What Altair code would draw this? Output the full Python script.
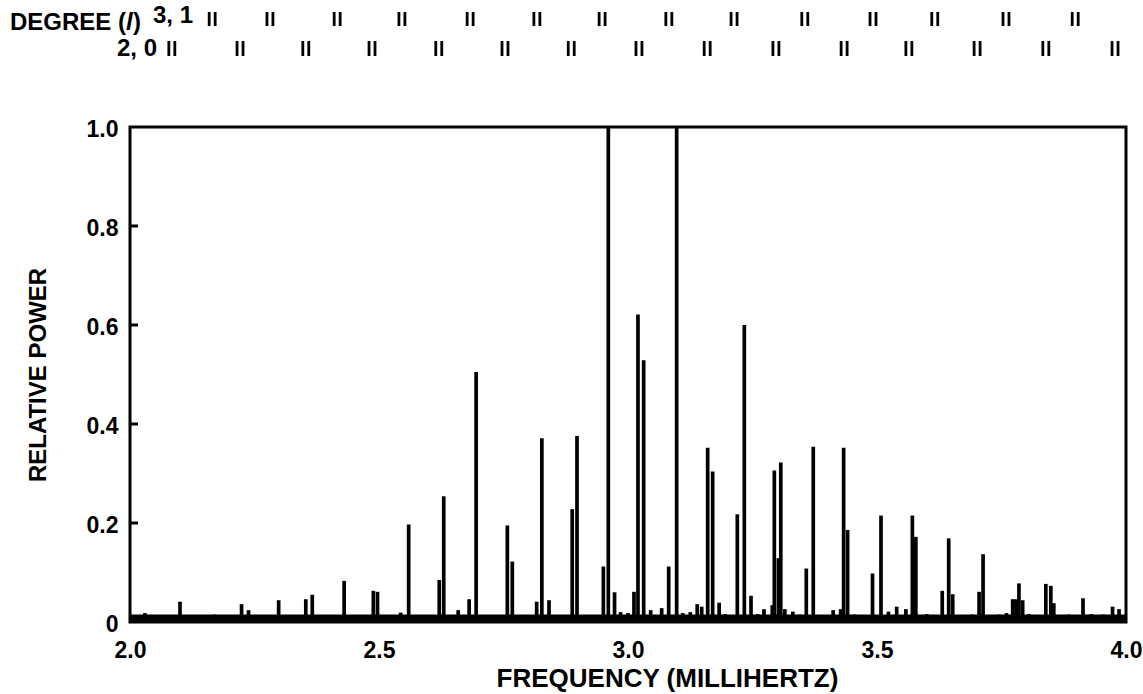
import altair as alt
import pandas as pd

# ---------------- data ----------------
peak_freq = [2.1004, 2.224, 2.238, 2.2985, 2.353, 2.366, 2.430, 2.4886, 2.497, 2.5596,
             2.621, 2.630, 2.681, 2.695, 2.7577, 2.7677, 2.8166, 2.827, 2.8414, 2.888,
             2.8976, 2.9505, 2.9605, 2.973, 3.012, 3.020, 3.0315, 3.0455, 3.0676, 3.0817,
             3.0977, 3.139, 3.148, 3.160, 3.170, 3.183, 3.2195, 3.2336, 3.247, 3.273,
             3.2897, 3.2938, 3.302, 3.3068, 3.315, 3.331, 3.358, 3.372, 3.412, 3.427,
             3.433, 3.441, 3.491, 3.508, 3.523, 3.5395, 3.558, 3.571, 3.578, 3.631,
             3.644, 3.652, 3.705, 3.713, 3.7725, 3.779, 3.785, 3.7925, 3.839, 3.849,
             3.855, 3.9137, 3.973, 3.986]
peak_power = [0.041, 0.036, 0.024, 0.044, 0.046, 0.055, 0.083, 0.063, 0.061, 0.197,
              0.085, 0.254, 0.046, 0.505, 0.195, 0.122, 0.041, 0.371, 0.044, 0.228,
              0.376, 0.112, 1.0, 0.060, 0.061, 0.621, 0.529, 0.024, 0.028, 0.112,
              1.0, 0.036, 0.031, 0.352, 0.304, 0.039, 0.2175, 0.600, 0.053, 0.026,
              0.034, 0.306, 0.129, 0.322, 0.026, 0.021, 0.108, 0.354, 0.024, 0.026,
              0.352, 0.186, 0.098, 0.215, 0.021, 0.031, 0.026, 0.215, 0.172, 0.063,
              0.169, 0.056, 0.061, 0.137, 0.046, 0.046, 0.078, 0.044, 0.077, 0.073,
              0.038, 0.048, 0.031, 0.026]

# small bumps of the noise floor
bump_freq = [2.030, 2.060, 2.090, 2.120, 2.150, 2.170, 2.190, 2.260, 2.280, 2.330,
             2.400, 2.415, 2.462, 2.515, 2.5435, 2.575, 2.590, 2.659, 2.700, 2.729,
             2.745, 2.790, 2.860, 2.875, 2.920, 2.985, 3.000, 3.110, 3.125, 3.195,
             3.260, 3.345, 3.390, 3.455, 3.470, 3.590, 3.600, 3.615, 3.670, 3.690,
             3.730, 3.745, 3.760, 3.805, 3.820, 3.870, 3.885, 3.930, 3.945, 3.955]
bump_power = [0.018, 0.010, 0.014, 0.012, 0.012, 0.015, 0.014, 0.012, 0.012, 0.014,
              0.012, 0.014, 0.012, 0.012, 0.019, 0.014, 0.012, 0.024, 0.014, 0.014,
              0.012, 0.014, 0.012, 0.014, 0.012, 0.020, 0.018, 0.018, 0.020, 0.016,
              0.016, 0.015, 0.014, 0.015, 0.014, 0.014, 0.016, 0.014, 0.014, 0.015,
              0.014, 0.015, 0.018, 0.016, 0.014, 0.014, 0.015, 0.016, 0.014, 0.015]
floor_level = [0.008]
freq_range = [2.0, 4.0]

# mode identification ticks (degree l)
deg3_freq = [2.159, 2.275, 2.410, 2.540, 2.677, 2.811, 2.942, 3.076, 3.207, 3.349,
             3.486, 3.610, 3.753, 3.892]
deg1_freq = [2.171, 2.287, 2.422, 2.552, 2.689, 2.823, 2.954, 3.088, 3.219, 3.361,
             3.498, 3.622, 3.765, 3.904]
deg2_freq = [2.078, 2.215, 2.347, 2.480, 2.614, 2.747, 2.880, 3.016, 3.153, 3.291,
             3.428, 3.558, 3.695, 3.833, 3.972]
deg0_freq = [2.090, 2.227, 2.359, 2.492, 2.626, 2.759, 2.892, 3.028, 3.165, 3.303,
             3.440, 3.570, 3.707, 3.845, 3.984]

x_ticks = [2.0, 2.5, 3.0, 3.5, 4.0]
y_ticks = [0, 0.2, 0.4, 0.6, 0.8, 1.0]
y_inner_ticks = [0.2, 0.4, 0.6, 0.8]

x_title = "FREQUENCY (MILLIHERTZ)"
y_title = "RELATIVE POWER"
degree_parts = ["DEGREE (", "l", ")"]
row_labels = ["3, 1", "2, 0"]

# ---------------- chart ----------------
FONT = "Liberation Sans"
W, H = 996, 495

xs = alt.Scale(domain=freq_range, nice=False, zero=False)
ys = alt.Scale(domain=[0, 1.0], nice=False)

spec_df = pd.DataFrame({"f": peak_freq + bump_freq,
                        "p": peak_power + bump_power})
spec_df["b"] = 0.0

x_axis = alt.Axis(values=x_ticks, format=".1f", labelFont=FONT, labelFontSize=23,
                  labelFontWeight="bold", labelColor="black", ticks=False, tickSize=0,
                  domain=False, grid=False, labelPadding=17, labelFlush=False,
                  title=x_title, titleFont=FONT, titleFontSize=26, titleFontWeight="bold",
                  titleColor="black", titleX=537, titleY=43, titleAlign="center",
                  titleBaseline="top")
y_axis = alt.Axis(values=y_ticks,
                  labelExpr="datum.value == 0 ? '0' : format(datum.value, '.1f')",
                  labelFont=FONT, labelFontSize=23, labelFontWeight="bold",
                  labelColor="black", ticks=False, tickSize=0, domain=False, grid=False,
                  labelPadding=12, labelOffset=2,
                  title=y_title, titleFont=FONT, titleFontSize=24, titleFontWeight="bold",
                  titleColor="black", titleX=-92, titleY=H / 2, titleAngle=270,
                  titleAlign="center", titleBaseline="middle")

peaks = alt.Chart(spec_df).mark_rule(color="black", strokeWidth=3.7).encode(
    x=alt.X("f:Q", scale=xs, axis=x_axis),
    y=alt.Y("p:Q", scale=ys, axis=y_axis),
    y2="b:Q",
)

floor_df = pd.DataFrame({"f": [freq_range[0]], "x1": [freq_range[1]], "p": floor_level})
floor = alt.Chart(floor_df).mark_rule(color="black", strokeWidth=7).encode(
    x=alt.X("f:Q", scale=xs, axis=x_axis), x2="x1:Q",
    y=alt.Y("p:Q", scale=ys, axis=y_axis),
)

ytick_df = pd.DataFrame({"p": y_inner_ticks})
yticks = alt.Chart(ytick_df).mark_rule(color="black", strokeWidth=3).encode(
    y=alt.Y("p:Q", scale=ys, axis=y_axis), x=alt.value(0), x2=alt.value(8),
)


def tick_row(freqs, y0, y1):
    df = pd.DataFrame({"f": freqs})
    return alt.Chart(df).mark_rule(color="black", strokeWidth=2.8).encode(
        x=alt.X("f:Q", scale=xs, axis=x_axis), y=alt.value(y0), y2=alt.value(y1))


row1 = tick_row(deg3_freq + deg1_freq, -115, -101)
row2 = tick_row(deg2_freq + deg0_freq, -86, -71)


def label(text, x, y, align="left", style="normal", size=23):
    df = pd.DataFrame({"t": [text]})
    return alt.Chart(df).mark_text(font=FONT, fontSize=size, fontWeight="bold",
                                   fontStyle=style, color="black", align=align,
                                   baseline="alphabetic").encode(
        text="t:N", x=alt.value(x), y=alt.value(y))


deg_label = label(degree_parts[0], -120, -97, size=24)
deg_l = label(degree_parts[1], -4, -97, style="italic", size=24)
deg_close = label(degree_parts[2], 3, -97, size=24)
lab31 = label(row_labels[0], 23, -104, size=24)
lab20 = label(row_labels[1], 27, -71, align="right", size=24)

chart = alt.layer(peaks, floor, yticks, row1, row2,
                  deg_label, deg_l, deg_close, lab31, lab20).properties(
    width=W, height=H,
    padding={"left": 130, "top": 127, "right": 17, "bottom": 72},
    autosize=alt.AutoSizeParams(type="none"),
    background="white",
).configure_view(stroke="black", strokeWidth=3)

chart.save("out.html", embed_options={"renderer": "svg", "actions": False})
